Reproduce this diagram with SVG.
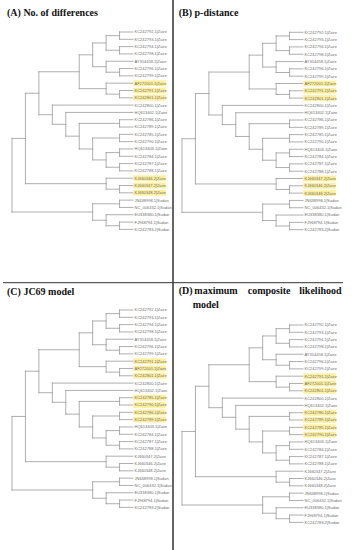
<svg xmlns="http://www.w3.org/2000/svg" xmlns:xlink="http://www.w3.org/1999/xlink" width="352" height="550" viewBox="0 0 352 550">
<style>
.title{font-family:"Liberation Serif","Times New Roman",serif;font-weight:bold;font-size:10px;fill:#111}
.lab{font-family:"Liberation Sans",Arial,sans-serif;font-size:4px;fill:#6e6e6e}
.hl{fill:#fff0a0}
.br{fill:none;stroke:#9a9a9a;stroke-width:0.8;stroke-linecap:square}
.div{stroke:#333;fill:none}
</style>
<defs>
<path id="tree" class="br" d="M0,106.45V180.01M0,106.45H13.44M0,180.01H80.67M13.44,61.22V151.68M13.44,61.22H26.89M13.44,151.68H94.11M26.89,39.75V82.69M26.89,39.75H67.22M26.89,82.69H40.33M67.22,22.84V56.65M67.22,22.84H80.67M67.22,56.65H94.11M80.67,10.97V34.72M80.67,10.97H94.11M80.67,34.72H94.11M94.11,3.66V18.28M94.11,3.66H107.56M94.11,18.28H107.56M107.56,0V7.31M107.56,0H121M107.56,7.31H121M107.56,14.62V21.93M107.56,14.62H121M107.56,21.93H121M94.11,29.24V40.21M94.11,29.24H121M94.11,40.21H107.56M107.56,36.55V43.86M107.56,36.55H121M107.56,43.86H121M94.11,51.17V62.14M94.11,51.17H121M94.11,62.14H107.56M107.56,58.48V65.79M107.56,58.48H121M107.56,65.79H121M40.33,73.1V92.29M40.33,73.1H121M40.33,92.29H53.78M53.78,80.41V104.17M53.78,80.41H121M53.78,104.17H67.22M67.22,91.38V116.96M67.22,91.38H107.56M67.22,116.96H80.67M107.56,87.72V95.03M107.56,87.72H121M107.56,95.03H121M80.67,106V127.93M80.67,106H107.56M80.67,127.93H94.11M107.56,102.34V109.65M107.56,102.34H121M107.56,109.65H121M94.11,120.62V135.24M94.11,120.62H107.56M94.11,135.24H107.56M107.56,116.96V124.27M107.56,116.96H121M107.56,124.27H121M107.56,131.58V138.89M107.56,131.58H121M107.56,138.89H121M94.11,146.2V157.17M94.11,146.2H121M94.11,157.17H107.56M107.56,153.51V160.82M107.56,153.51H121M107.56,160.82H121M80.67,171.79V188.23M80.67,171.79H107.56M80.67,188.23H94.11M107.56,168.13V175.44M107.56,168.13H121M107.56,175.44H121M94.11,182.75V193.72M94.11,182.75H121M94.11,193.72H107.56M107.56,190.06V197.37M107.56,190.06H121M107.56,197.37H121"/>
</defs>
<rect width="352" height="550" fill="#fff"/>
<g id="dividers">
<line class="div" x1="173" y1="0" x2="173" y2="550" stroke-width="1.5"/>
<line class="div" x1="3" y1="282.7" x2="343" y2="282.7" stroke-width="1" stroke="#555"/>
</g>
<g id="titles">
<text class="title" x="7" y="16">(A) No. of differences</text>
<text class="title" x="178.7" y="16">(B) p-distance</text>
<text class="title" x="7" y="295">(C) JC69 model</text>
<text class="title" y="294"><tspan x="178.7">(D)</tspan><tspan x="194.3">maximum</tspan><tspan x="247.7">composite</tspan><tspan x="299.3">likelihood</tspan></text>
<text class="title" x="192.7" y="307.5">model</text>
</g>
<g id="connectors">
<use xlink:href="#tree" href="#tree" transform="translate(12,32)"/>
<use xlink:href="#tree" href="#tree" transform="translate(182,32.3)"/>
<use xlink:href="#tree" href="#tree" transform="translate(12,310)"/>
<use xlink:href="#tree" href="#tree" transform="translate(182,325)"/>
</g>
<g id="panelA" transform="translate(12,32)">
<g id="A1"><text class="lab" x="122.5" y="1.45">KC242792.1|Zaire</text></g>
<g id="A2"><text class="lab" x="122.5" y="8.76">KC242793.1|Zaire</text></g>
<g id="A3"><text class="lab" x="122.5" y="16.07">KC242794.1|Zaire</text></g>
<g id="A4"><text class="lab" x="122.5" y="23.38">KC242798.1|Zaire</text></g>
<g id="A5"><text class="lab" x="122.5" y="30.69">AY354458.1|Zaire</text></g>
<g id="A6"><text class="lab" x="122.5" y="38">KC242796.1|Zaire</text></g>
<g id="A7"><text class="lab" x="122.5" y="45.31">KC242799.1|Zaire</text></g>
<g id="A8"><rect class="hl" x="121.3" y="48.27" width="32.5" height="5.8"/><text class="lab" x="122.5" y="52.62">AF272001.1|Zaire</text></g>
<g id="A9"><rect class="hl" x="121.3" y="55.58" width="32.5" height="5.8"/><text class="lab" x="122.5" y="59.93">KC242791.1|Zaire</text></g>
<g id="A10"><rect class="hl" x="121.3" y="62.89" width="32.5" height="5.8"/><text class="lab" x="122.5" y="67.24">KC242801.1|Zaire</text></g>
<g id="A11"><text class="lab" x="122.5" y="74.55">KC242800.1|Zaire</text></g>
<g id="A12"><text class="lab" x="122.5" y="81.86">HQ613402.1|Zaire</text></g>
<g id="A13"><text class="lab" x="122.5" y="89.17">KC242786.1|Zaire</text></g>
<g id="A14"><text class="lab" x="122.5" y="96.48">KC242789.1|Zaire</text></g>
<g id="A15"><text class="lab" x="122.5" y="103.79">KC242785.1|Zaire</text></g>
<g id="A16"><text class="lab" x="122.5" y="111.1">KC242790.1|Zaire</text></g>
<g id="A17"><text class="lab" x="122.5" y="118.41">HQ613403.1|Zaire</text></g>
<g id="A18"><text class="lab" x="122.5" y="125.72">KC242784.1|Zaire</text></g>
<g id="A19"><text class="lab" x="122.5" y="133.03">KC242787.1|Zaire</text></g>
<g id="A20"><text class="lab" x="122.5" y="140.34">KC242788.1|Zaire</text></g>
<g id="A21"><rect class="hl" x="121.3" y="143.3" width="32.5" height="5.8"/><text class="lab" x="122.5" y="147.65">KJ660346.2|Zaire</text></g>
<g id="A22"><rect class="hl" x="121.3" y="150.61" width="32.5" height="5.8"/><text class="lab" x="122.5" y="154.96">KJ660347.2|Zaire</text></g>
<g id="A23"><rect class="hl" x="121.3" y="157.92" width="32.5" height="5.8"/><text class="lab" x="122.5" y="162.27">KJ660348.2|Zaire</text></g>
<g id="A24"><text class="lab" x="122.5" y="169.58">JN638998.1|Sudan</text></g>
<g id="A25"><text class="lab" x="122.5" y="176.89">NC_006432.1|Sudan</text></g>
<g id="A26"><text class="lab" x="122.5" y="184.2">EU338380.1|Sudan</text></g>
<g id="A27"><text class="lab" x="122.5" y="191.51">FJ968794.1|Sudan</text></g>
<g id="A28"><text class="lab" x="122.5" y="198.82">KC242783.2|Sudan</text></g>
</g>
<g id="panelB" transform="translate(182,32.3)">
<g id="B1"><text class="lab" x="122.5" y="1.45">KC242792.1|Zaire</text></g>
<g id="B2"><text class="lab" x="122.5" y="8.76">KC242793.1|Zaire</text></g>
<g id="B3"><text class="lab" x="122.5" y="16.07">KC242794.1|Zaire</text></g>
<g id="B4"><text class="lab" x="122.5" y="23.38">KC242798.1|Zaire</text></g>
<g id="B5"><text class="lab" x="122.5" y="30.69">AY354458.1|Zaire</text></g>
<g id="B6"><text class="lab" x="122.5" y="38">KC242796.1|Zaire</text></g>
<g id="B7"><text class="lab" x="122.5" y="45.31">KC242799.1|Zaire</text></g>
<g id="B8"><rect class="hl" x="121.3" y="48.27" width="32.5" height="5.8"/><text class="lab" x="122.5" y="52.62">AF272001.1|Zaire</text></g>
<g id="B9"><rect class="hl" x="121.3" y="55.58" width="32.5" height="5.8"/><text class="lab" x="122.5" y="59.93">KC242791.1|Zaire</text></g>
<g id="B10"><rect class="hl" x="121.3" y="62.89" width="32.5" height="5.8"/><text class="lab" x="122.5" y="67.24">KC242801.1|Zaire</text></g>
<g id="B11"><text class="lab" x="122.5" y="74.55">KC242800.1|Zaire</text></g>
<g id="B12"><text class="lab" x="122.5" y="81.86">HQ613402.1|Zaire</text></g>
<g id="B13"><text class="lab" x="122.5" y="89.17">KC242786.1|Zaire</text></g>
<g id="B14"><text class="lab" x="122.5" y="96.48">KC242789.1|Zaire</text></g>
<g id="B15"><text class="lab" x="122.5" y="103.79">KC242785.1|Zaire</text></g>
<g id="B16"><text class="lab" x="122.5" y="111.1">KC242790.1|Zaire</text></g>
<g id="B17"><text class="lab" x="122.5" y="118.41">HQ613403.1|Zaire</text></g>
<g id="B18"><text class="lab" x="122.5" y="125.72">KC242784.1|Zaire</text></g>
<g id="B19"><text class="lab" x="122.5" y="133.03">KC242787.1|Zaire</text></g>
<g id="B20"><text class="lab" x="122.5" y="140.34">KC242788.1|Zaire</text></g>
<g id="B21"><rect class="hl" x="121.3" y="143.3" width="32.5" height="5.8"/><text class="lab" x="122.5" y="147.65">KJ660347.2|Zaire</text></g>
<g id="B22"><rect class="hl" x="121.3" y="150.61" width="32.5" height="5.8"/><text class="lab" x="122.5" y="154.96">KJ660346.2|Zaire</text></g>
<g id="B23"><rect class="hl" x="121.3" y="157.92" width="32.5" height="5.8"/><text class="lab" x="122.5" y="162.27">KJ660348.2|Zaire</text></g>
<g id="B24"><text class="lab" x="122.5" y="169.58">JN638998.1|Sudan</text></g>
<g id="B25"><text class="lab" x="122.5" y="176.89">NC_006432.1|Sudan</text></g>
<g id="B26"><text class="lab" x="122.5" y="184.2">EU338380.1|Sudan</text></g>
<g id="B27"><text class="lab" x="122.5" y="191.51">FJ968794.1|Sudan</text></g>
<g id="B28"><text class="lab" x="122.5" y="198.82">KC242783.2|Sudan</text></g>
</g>
<g id="panelC" transform="translate(12,310)">
<g id="C1"><text class="lab" x="122.5" y="1.45">KC242792.1|Zaire</text></g>
<g id="C2"><text class="lab" x="122.5" y="8.76">KC242793.1|Zaire</text></g>
<g id="C3"><text class="lab" x="122.5" y="16.07">KC242794.1|Zaire</text></g>
<g id="C4"><text class="lab" x="122.5" y="23.38">KC242798.1|Zaire</text></g>
<g id="C5"><text class="lab" x="122.5" y="30.69">AY354458.1|Zaire</text></g>
<g id="C6"><text class="lab" x="122.5" y="38">KC242796.1|Zaire</text></g>
<g id="C7"><text class="lab" x="122.5" y="45.31">KC242799.1|Zaire</text></g>
<g id="C8"><rect class="hl" x="121.3" y="48.27" width="32.5" height="5.8"/><text class="lab" x="122.5" y="52.62">KC242791.1|Zaire</text></g>
<g id="C9"><rect class="hl" x="121.3" y="55.58" width="32.5" height="5.8"/><text class="lab" x="122.5" y="59.93">AF272001.1|Zaire</text></g>
<g id="C10"><rect class="hl" x="121.3" y="62.89" width="32.5" height="5.8"/><text class="lab" x="122.5" y="67.24">KC242801.1|Zaire</text></g>
<g id="C11"><text class="lab" x="122.5" y="74.55">KC242800.1|Zaire</text></g>
<g id="C12"><text class="lab" x="122.5" y="81.86">HQ613402.1|Zaire</text></g>
<g id="C13"><rect class="hl" x="121.3" y="84.82" width="32.5" height="5.8"/><text class="lab" x="122.5" y="89.17">KC242785.1|Zaire</text></g>
<g id="C14"><rect class="hl" x="121.3" y="92.13" width="32.5" height="5.8"/><text class="lab" x="122.5" y="96.48">KC242790.1|Zaire</text></g>
<g id="C15"><rect class="hl" x="121.3" y="99.44" width="32.5" height="5.8"/><text class="lab" x="122.5" y="103.79">KC242786.1|Zaire</text></g>
<g id="C16"><rect class="hl" x="121.3" y="106.75" width="32.5" height="5.8"/><text class="lab" x="122.5" y="111.1">KC242789.1|Zaire</text></g>
<g id="C17"><text class="lab" x="122.5" y="118.41">HQ613403.1|Zaire</text></g>
<g id="C18"><text class="lab" x="122.5" y="125.72">KC242784.1|Zaire</text></g>
<g id="C19"><text class="lab" x="122.5" y="133.03">KC242787.1|Zaire</text></g>
<g id="C20"><text class="lab" x="122.5" y="140.34">KC242788.1|Zaire</text></g>
<g id="C21"><text class="lab" x="122.5" y="147.65">KJ660347.2|Zaire</text></g>
<g id="C22"><text class="lab" x="122.5" y="154.96">KJ660346.2|Zaire</text></g>
<g id="C23"><text class="lab" x="122.5" y="162.27">KJ660348.2|Zaire</text></g>
<g id="C24"><text class="lab" x="122.5" y="169.58">JN638998.1|Sudan</text></g>
<g id="C25"><text class="lab" x="122.5" y="176.89">NC_006432.1|Sudan</text></g>
<g id="C26"><text class="lab" x="122.5" y="184.2">EU338380.1|Sudan</text></g>
<g id="C27"><text class="lab" x="122.5" y="191.51">FJ968794.1|Sudan</text></g>
<g id="C28"><text class="lab" x="122.5" y="198.82">KC242783.2|Sudan</text></g>
</g>
<g id="panelD" transform="translate(182,325)">
<g id="D1"><text class="lab" x="122.5" y="1.45">KC242792.1|Zaire</text></g>
<g id="D2"><text class="lab" x="122.5" y="8.76">KC242793.1|Zaire</text></g>
<g id="D3"><text class="lab" x="122.5" y="16.07">KC242794.1|Zaire</text></g>
<g id="D4"><text class="lab" x="122.5" y="23.38">KC242798.1|Zaire</text></g>
<g id="D5"><text class="lab" x="122.5" y="30.69">AY354458.1|Zaire</text></g>
<g id="D6"><text class="lab" x="122.5" y="38">KC242796.1|Zaire</text></g>
<g id="D7"><text class="lab" x="122.5" y="45.31">KC242799.1|Zaire</text></g>
<g id="D8"><rect class="hl" x="121.3" y="48.27" width="32.5" height="5.8"/><text class="lab" x="122.5" y="52.62">KC242791.1|Zaire</text></g>
<g id="D9"><rect class="hl" x="121.3" y="55.58" width="32.5" height="5.8"/><text class="lab" x="122.5" y="59.93">AF272001.1|Zaire</text></g>
<g id="D10"><rect class="hl" x="121.3" y="62.89" width="32.5" height="5.8"/><text class="lab" x="122.5" y="67.24">KC242801.1|Zaire</text></g>
<g id="D11"><text class="lab" x="122.5" y="74.55">KC242800.1|Zaire</text></g>
<g id="D12"><text class="lab" x="122.5" y="81.86">HQ613402.1|Zaire</text></g>
<g id="D13"><rect class="hl" x="121.3" y="84.82" width="32.5" height="5.8"/><text class="lab" x="122.5" y="89.17">KC242786.1|Zaire</text></g>
<g id="D14"><rect class="hl" x="121.3" y="92.13" width="32.5" height="5.8"/><text class="lab" x="122.5" y="96.48">KC242789.1|Zaire</text></g>
<g id="D15"><rect class="hl" x="121.3" y="99.44" width="32.5" height="5.8"/><text class="lab" x="122.5" y="103.79">KC242785.1|Zaire</text></g>
<g id="D16"><rect class="hl" x="121.3" y="106.75" width="32.5" height="5.8"/><text class="lab" x="122.5" y="111.1">KC242790.1|Zaire</text></g>
<g id="D17"><text class="lab" x="122.5" y="118.41">HQ613403.1|Zaire</text></g>
<g id="D18"><text class="lab" x="122.5" y="125.72">KC242784.1|Zaire</text></g>
<g id="D19"><text class="lab" x="122.5" y="133.03">KC242787.1|Zaire</text></g>
<g id="D20"><text class="lab" x="122.5" y="140.34">KC242788.1|Zaire</text></g>
<g id="D21"><text class="lab" x="122.5" y="147.65">KJ660347.2|Zaire</text></g>
<g id="D22"><text class="lab" x="122.5" y="154.96">KJ660346.2|Zaire</text></g>
<g id="D23"><text class="lab" x="122.5" y="162.27">KJ660348.2|Zaire</text></g>
<g id="D24"><text class="lab" x="122.5" y="169.58">JN638998.1|Sudan</text></g>
<g id="D25"><text class="lab" x="122.5" y="176.89">NC_006432.1|Sudan</text></g>
<g id="D26"><text class="lab" x="122.5" y="184.2">EU338380.1|Sudan</text></g>
<g id="D27"><text class="lab" x="122.5" y="191.51">FJ968794.1|Sudan</text></g>
<g id="D28"><text class="lab" x="122.5" y="198.82">KC242783.2|Sudan</text></g>
</g>
</svg>
